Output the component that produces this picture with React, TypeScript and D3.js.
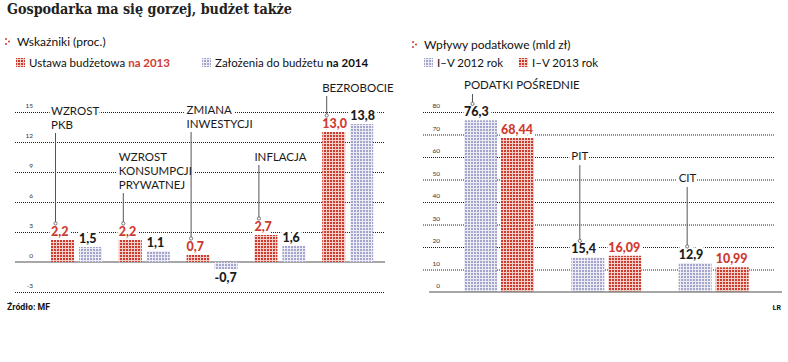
import React from "react";
import * as d3 from "d3";

// ---- data ----
const categoriesL: string[][] = [
  ["WZROST", "PKB"],
  ["WZROST", "KONSUMPCJI", "PRYWATNEJ"],
  ["ZMIANA", "INWESTYCJI"],
  ["INFLACJA"],
  ["BEZROBOCIE"],
];
const ustawa2013 = [2.2, 2.2, 0.7, 2.7, 13.0];
const zalozenia2014 = [1.5, 1.1, -0.7, 1.6, 13.8];
const ticksL = [-3, 0, 3, 6, 9, 12, 15];

const categoriesR: string[] = ["PODATKI POŚREDNIE", "PIT", "CIT"];
const wplywy2012 = [76.3, 15.4, 12.9];
const wplywy2013 = [68.44, 16.09, 10.99];
const ticksR = [0, 10, 20, 30, 40, 50, 60, 70, 80];

// ---- layout (not data) ----
const annYL = [111, 157, 110, 157, 88];
const annYR = [85, 156, 178];

const RED = "#cf3a2f";
const INK = "#1c1c1c";
const FONT = "Lato, 'Open Sans', sans-serif";

const fmtL = (v: number) => v.toFixed(1).replace(".", ",");
const fmtR = (v: number) => String(v).replace(".", ",");

type Lbl = { x: number; y: number; text: string; size: number; weight: number | string; fill: string };

export default function App() {
  const yL = d3.scaleLinear().domain([-3, 15]).range([292, 112]);
  const xL = d3.scaleBand<number>().domain(d3.range(categoriesL.length)).range([45, 384]);
  const yR = d3.scaleLinear().domain([0, 80]).range([292, 112]);
  const xR = d3.scaleBand<number>().domain(d3.range(categoriesR.length)).range([455, 777]);

  const bwL = 23, bwR = 33;
  const labels: Lbl[] = [];
  const leaders: { x: number; y1: number; y2: number }[] = [];
  const bars: { x: number; y: number; w: number; h: number; fill: string }[] = [];

  categoriesL.forEach((lines, i) => {
    const rx = (xL(i) as number) + 6;
    const gx = rx + 28;
    const r = ustawa2013[i], g = zalozenia2014[i];
    bars.push({ x: rx, y: Math.min(yL(r), yL(0)), w: bwL, h: Math.abs(yL(r) - yL(0)), fill: "url(#pRed)" });
    bars.push({ x: gx, y: Math.min(yL(g), yL(0)), w: bwL, h: Math.abs(yL(g) - yL(0)), fill: "url(#pLav)" });
    const rBase = r >= 0 ? yL(r) - 4 : yL(r) + 13;
    const gBase = g >= 0 ? yL(g) - 4 : yL(g) + 13;
    labels.push({ x: rx, y: rBase, text: fmtL(r), size: 12.5, weight: 900, fill: RED });
    labels.push({ x: gx, y: gBase, text: fmtL(g), size: 12.5, weight: 900, fill: INK });
    lines.forEach((t, k) => {
      labels.push({ x: rx, y: annYL[i] + 4 + k * 14, text: t, size: 11.5, weight: 400, fill: "#1a1a1a" });
    });
    const top = annYL[i] + (lines.length - 1) * 14 + 8;
    leaders.push({ x: rx + 4.5, y1: top, y2: rBase - 14 });
  });

  categoriesR.forEach((name, i) => {
    const gx = (xR(i) as number) + 9;
    const rx = gx + 37;
    const g = wplywy2012[i], r = wplywy2013[i];
    bars.push({ x: gx, y: yR(g), w: bwR, h: yR(0) - yR(g), fill: "url(#pLav)" });
    bars.push({ x: rx, y: yR(r), w: bwR, h: yR(0) - yR(r), fill: "url(#pRed)" });
    const gBase = yR(g) - 4;
    labels.push({ x: gx, y: gBase, text: fmtR(g), size: 12.5, weight: 900, fill: INK });
    labels.push({ x: rx, y: yR(r) - 4, text: fmtR(r), size: 12.5, weight: 900, fill: RED });
    labels.push({ x: gx, y: annYR[i] + 4, text: name, size: 11.5, weight: 400, fill: "#1a1a1a" });
    leaders.push({ x: gx + 8.5, y1: annYR[i] + 9, y2: gBase - 14 });
  });

  const tickTxt = { fontFamily: FONT, fontSize: 6.5, fill: "#333" } as const;

  return (
    <svg width={788} height={362} style={{ position: "absolute", left: 0, top: 0, background: "#fff" }}>
      <defs>
        <pattern id="pRed" width={3} height={3} patternUnits="userSpaceOnUse">
          <rect width={3} height={3} fill="#f3cfca" />
          <rect width={2} height={2} fill={RED} />
        </pattern>
        <pattern id="pLav" width={3} height={3} patternUnits="userSpaceOnUse">
          <rect width={3} height={3} fill="#ececf5" />
          <rect width={2} height={2} fill="#a4a4cc" />
        </pattern>
      </defs>

      <text x={7} y={14} fontFamily="'DejaVu Serif', 'Liberation Serif', serif" fontWeight="bold" fontSize={15}
        textLength={285} lengthAdjust="spacingAndGlyphs" fill="#222">
        Gospodarka ma się gorzej, budżet także
      </text>

      {[{ x: 6, y: 46, t: "Wskaźniki (proc.)" }, { x: 413, y: 49, t: "Wpływy podatkowe (mld zł)" }].map((h, i) => (
        <g key={i}>
          <circle cx={h.x} cy={h.y - 7} r={1} fill={RED} />
          <circle cx={h.x} cy={h.y - 2} r={1} fill={RED} />
          <circle cx={h.x + 3} cy={h.y - 4.5} r={1} fill={RED} />
          <text x={h.x + 11} y={h.y} fontFamily={FONT} fontSize={12} fill="#111">{h.t}</text>
        </g>
      ))}

      <rect x={16} y={58} width={9} height={9} fill="url(#pRed)" />
      <text x={29} y={66.5} fontFamily={FONT} fontSize={11.5} fill="#111">
        Ustawa budżetowa <tspan fontWeight="bold" fill={RED}>na 2013</tspan>
      </text>
      <rect x={202} y={58} width={9} height={9} fill="url(#pLav)" />
      <text x={215} y={66.5} fontFamily={FONT} fontSize={11.5} fill="#111">
        Założenia do budżetu <tspan fontWeight="bold">na 2014</tspan>
      </text>
      <rect x={424} y={58} width={9} height={9} fill="url(#pLav)" />
      <text x={437} y={66.5} fontFamily={FONT} fontSize={11.5} fill="#111">I–V 2012 rok</text>
      <rect x={519} y={58} width={9} height={9} fill="url(#pRed)" />
      <text x={532} y={66.5} fontFamily={FONT} fontSize={11.5} fill="#111">I–V 2013 rok</text>

      {ticksL.map((t) => (
        <g key={"l" + t}>
          {t !== 0 && (
            <line x1={15} x2={385} y1={yL(t) + 0.5} y2={yL(t) + 0.5} stroke="#222" strokeWidth={1} strokeDasharray="1,1" />
          )}
          <text x={33} y={yL(t) - 4} textAnchor="end" {...tickTxt}>{t}</text>
        </g>
      ))}
      <line x1={15} x2={385} y1={yL(0)} y2={yL(0)} stroke="#8a8a8a" strokeWidth={1.5} />

      {ticksR.map((t) => (
        <g key={"r" + t}>
          {t !== 0 && (
            <line x1={423} x2={775} y1={yR(t) + 0.5} y2={yR(t) + 0.5} stroke="#222" strokeWidth={1} strokeDasharray="1,1" />
          )}
          <text x={440} y={yR(t) - 4} textAnchor="end" {...tickTxt}>{t}</text>
        </g>
      ))}

      {labels.map((l, i) => (
        <text key={"h" + i} x={l.x} y={l.y} fontFamily={FONT} fontSize={l.size} fontWeight={l.weight}
          fill="#fff" stroke="#fff" strokeWidth={6} strokeLinejoin="round">{l.text}</text>
      ))}

      {bars.map((b, i) => (
        <rect key={"b" + i} x={b.x} y={b.y} width={b.w} height={b.h} fill={b.fill} />
      ))}
      <line x1={429} x2={782} y1={yR(0)} y2={yR(0)} stroke="#8a8a8a" strokeWidth={1.5} />

      {leaders.map((l, i) => (
        <g key={"ld" + i}>
          <line x1={l.x} x2={l.x} y1={l.y1} y2={l.y2} stroke="#555" strokeWidth={1} />
          <circle cx={l.x} cy={l.y2 + 1.5} r={1.6} fill="#fff" stroke="#555" strokeWidth={0.8} />
        </g>
      ))}

      {labels.map((l, i) => (
        <text key={"t" + i} x={l.x} y={l.y} fontFamily={FONT} fontSize={l.size} fontWeight={l.weight} fill={l.fill}>
          {l.text}
        </text>
      ))}

      <text x={7} y={310} fontFamily="Roboto, sans-serif" fontWeight="bold" fontSize={9.5} textLength={43}
        lengthAdjust="spacingAndGlyphs" fill="#111">Źródło: MF</text>
      <text x={781} y={310} textAnchor="end" fontFamily="Roboto, sans-serif" fontWeight="bold" fontSize={7} fill="#111">ŁR</text>
    </svg>
  );
}
